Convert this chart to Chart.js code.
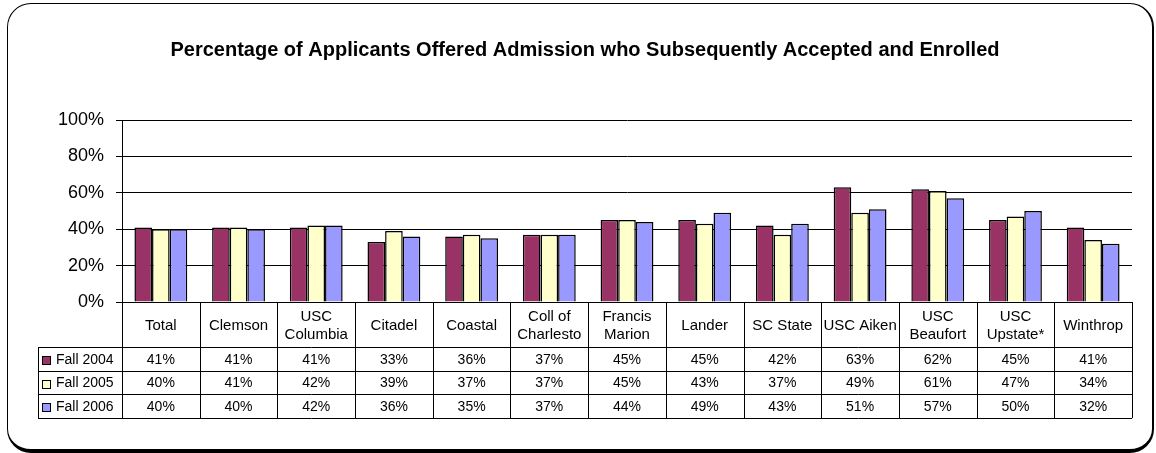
<!DOCTYPE html>
<html>
<head>
<meta charset="utf-8">
<script src="https://cdn.jsdelivr.net/npm/chart.js@4.4.1/dist/chart.umd.min.js"></script>
<style>
    body { margin: 0; background: #fff; }
    #wrap { position: relative; width: 1156px; height: 453px; }
    #frame {
        position: absolute; left: 7px; top: 3px; width: 1147px; height: 450px;
        box-sizing: border-box; border: 1px solid #000; border-right-width: 2px; border-bottom-width: 4px;
        border-radius: 24px;
    }
    #chart { position: absolute; left: 0; top: 0; }
</style>
</head>
<body>
<div id="wrap">
    <div id="frame"></div>
    <canvas id="chart" width="1156" height="453"></canvas>
</div>
<script>
var schools = ['Total', 'Clemson', ['USC', 'Columbia'], 'Citadel', 'Coastal', ['Coll of', 'Charlesto'],
    ['Francis', 'Marion'], 'Lander', 'SC State', 'USC Aiken', ['USC', 'Beaufort'], ['USC', 'Upstate*'], 'Winthrop'];
var fall2004 = [41, 41, 41, 33, 36, 37, 45, 45, 42, 63, 62, 45, 41];
var fall2005 = [40, 41, 42, 39, 37, 37, 45, 43, 37, 49, 61, 47, 34];
var fall2006 = [40, 40, 42, 36, 35, 37, 44, 49, 43, 51, 57, 50, 32];
var yTicks = [0, 20, 40, 60, 80, 100];

var FONT = 'Arial, "Liberation Sans", sans-serif';

// data table drawn under the x axis, lined up with the category scale
var dataTable = {
    id: 'dataTable',
    afterDraw: function(chart) {
        var ctx = chart.ctx;
        var xs = chart.scales.x;
        var area = chart.chartArea;
        var sets = chart.data.datasets;
        var n = chart.data.labels.length;
        var step = (area.right - area.left) / n;
        var top = area.bottom;
        var headBottom = top + 45;
        var rowH = 23.7;
        var bottom = headBottom + rowH * sets.length;
        var legLeft = chart.scales.y.left;

        ctx.save();
        ctx.strokeStyle = '#000';
        ctx.lineWidth = 1;
        ctx.beginPath();
        // horizontal lines
        ctx.moveTo(area.left, Math.round(top) + 0.5);
        ctx.lineTo(area.right, Math.round(top) + 0.5);
        for (var r = 0; r <= sets.length; r++) {
            var ly = Math.round(headBottom + rowH * r) + 0.5;
            ctx.moveTo(legLeft, ly);
            ctx.lineTo(area.right, ly);
        }
        // vertical lines at category borders
        for (var i = 0; i <= n; i++) {
            var bx = Math.round(area.left + step * i) + 0.5;
            ctx.moveTo(bx, top);
            ctx.lineTo(bx, bottom);
        }
        ctx.moveTo(Math.round(legLeft) + 0.5, headBottom);
        ctx.lineTo(Math.round(legLeft) + 0.5, bottom);
        ctx.stroke();

        ctx.fillStyle = '#000';
        ctx.textAlign = 'center';
        ctx.textBaseline = 'middle';
        ctx.font = '15px ' + FONT;
        chart.data.labels.forEach(function(lab, i) {
            var cx = xs.getPixelForValue(i);
            var lines = Array.isArray(lab) ? lab : [lab];
            var mid = (top + headBottom) / 2 + 1;
            lines.forEach(function(t, k) {
                ctx.fillText(t, cx, mid + (k - (lines.length - 1) / 2) * 18);
            });
        });

        ctx.font = '14px ' + FONT;
        sets.forEach(function(ds, r) {
            var cy = headBottom + rowH * r + rowH / 2 + 1;
            ds.data.forEach(function(v, i) {
                ctx.fillText(v + '%', xs.getPixelForValue(i), cy);
            });
            // legend key
            var kx = Math.round(legLeft) + 4;
            ctx.fillStyle = ds.backgroundColor;
            ctx.fillRect(kx, Math.round(cy) - 4, 9, 9);
            ctx.strokeRect(kx + 0.5, Math.round(cy) - 3.5, 8, 8);
            ctx.fillStyle = '#000';
            ctx.textAlign = 'left';
            ctx.fillText(ds.label, kx + 14, cy);
            ctx.textAlign = 'center';
        });
        ctx.restore();
    }
};

var ctx = document.getElementById('chart');
var chart = new Chart(ctx, {
    type: 'bar',
    data: {
        labels: schools,
        datasets: [{
            label: 'Fall 2004',
            data: fall2004,
            backgroundColor: '#993366',
            borderColor: '#000',
            borderWidth: 1.5
        }, {
            label: 'Fall 2005',
            data: fall2005,
            backgroundColor: '#FFFFCC',
            borderColor: '#000',
            borderWidth: 1.5
        }, {
            label: 'Fall 2006',
            data: fall2006,
            backgroundColor: '#9999FF',
            borderColor: '#000',
            borderWidth: 1.5
        }]
    },
    options: {
        responsive: false,
        animation: false,
        categoryPercentage: 0.68,
        barPercentage: 1,
        layout: {
            padding: { left: 38, right: 24, top: 0, bottom: 35 }
        },
        plugins: {
            legend: { display: false },
            title: {
                display: true,
                text: 'Percentage of Applicants Offered Admission who Subsequently Accepted and Enrolled',
                color: '#000',
                font: { family: FONT, size: 20, weight: 'bold' },
                padding: { top: 38, bottom: 58 }
            },
            tooltip: {
                callbacks: {
                    label: function(c) { return c.dataset.label + ': ' + c.parsed.y + '%'; }
                }
            }
        },
        scales: {
            x: {
                ticks: { display: false },
                grid: { display: false },
                border: { color: '#000' },
                afterFit: function(s) { s.height = 116; }
            },
            y: {
                min: 0,
                max: 100,
                afterFit: function(s) { s.width = 84; },
                afterBuildTicks: function(s) {
                    s.ticks = yTicks.map(function(v) { return { value: v }; });
                },
                ticks: {
                    color: '#000',
                    padding: 12,
                    font: { family: FONT, size: 18 },
                    callback: function(v) { return v + '%'; }
                },
                grid: { color: '#000', tickLength: 6, lineWidth: 1 },
                border: { color: '#000' }
            }
        }
    },
    plugins: [dataTable]
});
</script>
</body>
</html>
